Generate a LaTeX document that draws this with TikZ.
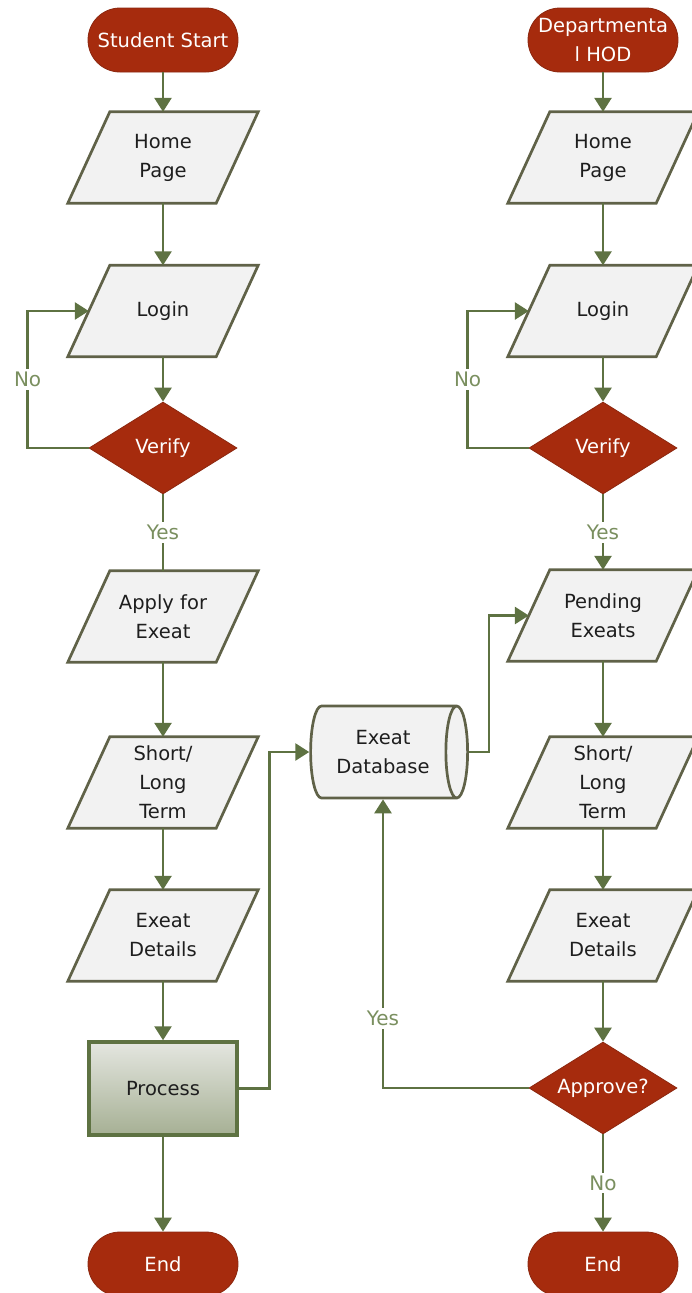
\documentclass[tikz,border=0pt]{standalone}
\usepackage{fontspec}
\setmainfont{DejaVu Sans}
\usetikzlibrary{shapes.geometric,arrows.meta,backgrounds,calc}

\definecolor{termred}{RGB}{166,43,13}
\definecolor{termedge}{RGB}{140,40,16}
\definecolor{parafill}{RGB}{242,242,242}
\definecolor{paraedge}{RGB}{96,98,72}
\definecolor{flowgreen}{RGB}{94,114,66}
\definecolor{lblgreen}{RGB}{122,143,95}
\definecolor{proctop}{RGB}{228,230,224}
\definecolor{procbot}{RGB}{166,176,148}
\definecolor{textdark}{RGB}{30,30,30}

\tikzset{
  base/.style={font=\fontsize{19.5}{29}\selectfont, align=center, inner sep=0pt},
  terminal/.style={base, rectangle, rounded corners=32pt, minimum width=150pt,
    minimum height=64pt, fill=termred, draw=termedge, line width=0.8pt, text=white},
  para/.style={base, rectangle, minimum width=148pt, minimum height=91pt, text=textdark},
  paraline/.style={draw=paraedge, fill=parafill, line width=2.7pt, line join=miter},
  decision/.style={base, diamond, minimum width=148pt, minimum height=92pt,
    fill=termred, draw=termedge, line width=0.8pt, text=white},
  procbox/.style={base, rectangle, minimum width=148pt, minimum height=93pt,
    top color=proctop, bottom color=procbot, draw=flowgreen, line width=3.5pt, text=textdark},
  store/.style={base, cylinder, shape border rotate=0, aspect=0.5, minimum width=92pt,
    minimum height=157pt, fill=parafill, draw=paraedge, line width=2.7pt, text=textdark},
  flow/.style={draw=flowgreen, line width=2.7pt, -{Triangle[width=17pt,length=14pt]}},
  plain/.style={draw=flowgreen, line width=2.7pt},
  lbl/.style={font=\fontsize{20}{24}\selectfont, text=lblgreen, fill=white, inner sep=3pt}
}

\begin{document}
\begin{tikzpicture}[x=1pt,y=-1pt]
\useasboundingbox (0,0) rectangle (691,1293);

% student column
\node[terminal] (ss)  at (163,40) {Student Start};
\node[para]     (hp1) at (163,157.5) {Home\\Page};
\node[para]     (lg1) at (163,311) {Login};
\node[decision] (vf1) at (163,448) {Verify};
\node[para]     (ap)  at (163,616.5) {Apply for\\Exeat};
\node[para]     (sl1) at (163,782.5) {Short/\\Long\\Term};
\node[para]     (ed1) at (163,935.5) {Exeat\\Details};
\node[procbox]  (pr)  at (163,1088.5) {Process};
\node[terminal] (en1) at (163,1264) {End};

% HOD column
\node[terminal] (hod) at (603,40) {Departmenta\\l HOD};
\node[para]     (hp2) at (603,157.5) {Home\\Page};
\node[para]     (lg2) at (603,311) {Login};
\node[decision] (vf2) at (603,448) {Verify};
\node[para]     (pe)  at (603,615.5) {Pending\\Exeats};
\node[para]     (sl2) at (603,782.5) {Short/\\Long\\Term};
\node[para]     (ed2) at (603,935.5) {Exeat\\Details};
\node[decision] (apv) at (603,1088) {\makebox[0pt]{Approve?}};
\node[terminal] (en2) at (603,1264) {End};

% shared store
\node[store] (db) at (383,752) {Exeat\\Database};

% parallelogram outlines behind the labels
\begin{scope}[on background layer]
\foreach \n in {hp1,lg1,ap,sl1,ed1,hp2,lg2,pe,sl2,ed2}
  \draw[paraline] ([xshift=21pt]\n.north west) -- ([xshift=21pt]\n.north east)
     -- ([xshift=-21pt]\n.south east) -- ([xshift=-21pt]\n.south west) -- cycle;
\end{scope}

% student flow
\draw[flow] (ss) -- (hp1);
\draw[flow] (hp1) -- (lg1);
\draw[flow] (lg1) -- (vf1);
\draw[flow] (vf1.west) -- ++(-61,0) |- node[lbl,pos=0.25]{No} (lg1.west);
\draw[plain] (vf1.south) -- node[lbl]{Yes} (ap.north);
\draw[flow] (ap) -- (sl1);
\draw[flow] (sl1) -- (ed1);
\draw[flow] (ed1) -- (pr);
\draw[flow] (pr) -- (en1);
\draw[flow] (pr.east) -- ++(31,0) |- (db.west);

% HOD flow
\draw[flow] (hod) -- (hp2);
\draw[flow] (hp2) -- (lg2);
\draw[flow] (lg2) -- (vf2);
\draw[flow] (vf2.west) -- ++(-61,0) |- node[lbl,pos=0.25]{No} (lg2.west);
\draw[flow] (vf2.south) -- node[lbl]{Yes} (pe.north);
\draw[flow] (db.east) -- ++(20,0) |- (pe.west);
\draw[flow] (pe) -- (sl2);
\draw[flow] (sl2) -- (ed2);
\draw[flow] (ed2) -- (apv);
\draw[flow] (apv.west) -| node[lbl,pos=0.62]{Yes} (db.south);
\draw[flow] (apv.south) -- node[lbl]{No} (en2.north);
\end{tikzpicture}
\end{document}
